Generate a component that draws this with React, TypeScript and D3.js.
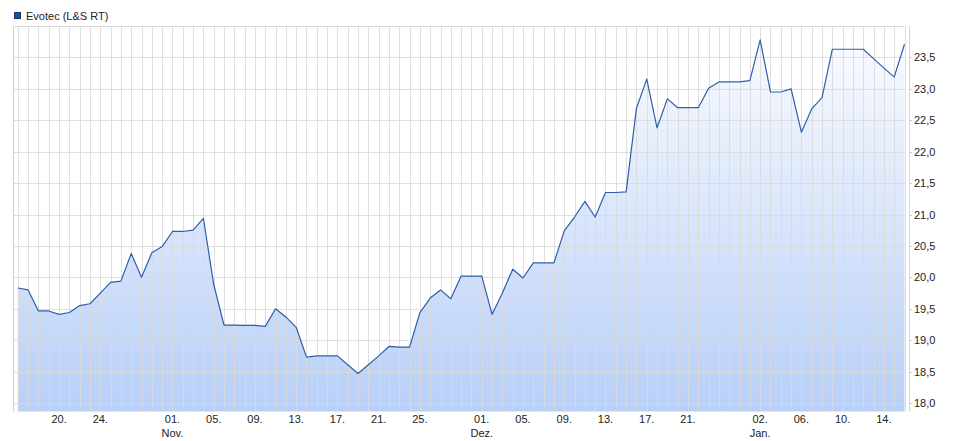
import React from "react";
import * as d3 from "d3";

const seriesName = "Evotec (L&S RT)";

const values: number[] = [
  19.83, 19.8, 19.465, 19.465, 19.41, 19.44, 19.55, 19.58, 19.75, 19.92,
  19.94, 20.38, 20.0, 20.39, 20.49, 20.73, 20.73, 20.75, 20.94, 19.89,
  19.24, 19.24, 19.235, 19.235, 19.22, 19.5, 19.37, 19.205, 18.73, 18.75,
  18.75, 18.75, 18.61, 18.47, 18.61, 18.75, 18.9, 18.89, 18.89, 19.44,
  19.67, 19.8, 19.66, 20.02, 20.02, 20.02, 19.41, 19.75, 20.13, 19.99,
  20.23, 20.23, 20.23, 20.74, 20.96, 21.21, 20.96, 21.35, 21.35, 21.36,
  22.69, 23.155, 22.38, 22.84, 22.7, 22.7, 22.7, 23.01, 23.11, 23.11,
  23.11, 23.13, 23.78, 22.95, 22.95, 23.0, 22.31, 22.68, 22.86, 23.63,
  23.63, 23.63, 23.63, 23.48, 23.33, 23.19, 23.71,
];

const tickIndex: number[] = [4, 8, 15, 19, 23, 27, 31, 35, 39, 45, 49, 53, 57, 61, 65, 72, 76, 80, 84];
const tickDay: string[] = ["20.", "24.", "01.", "05.", "09.", "13.", "17.", "21.", "25.", "01.", "05.", "09.", "13.", "17.", "21.", "02.", "06.", "10.", "14."];
const tickMonth: string[] = ["", "", "Nov.", "", "", "", "", "", "", "Dez.", "", "", "", "", "", "Jan.", "", "", ""];

const yTicks: number[] = [18.0, 18.5, 19.0, 19.5, 20.0, 20.5, 21.0, 21.5, 22.0, 22.5, 23.0, 23.5];

const W = 964;
const H = 441;
const plotLeft = 13;
const plotRight = 904.5;
const plotTop = 26;
const plotBottom = 411.5;

export default function App() {
  const x = d3.scaleLinear().domain([0, values.length - 1]).range([17.8, plotRight]);
  const y = d3.scaleLinear().domain([17.865, 24.0]).range([plotBottom, plotTop]);

  const line = d3
    .line<number>()
    .x((_, i) => x(i))
    .y((d) => y(d));
  const area = d3
    .area<number>()
    .x((_, i) => x(i))
    .y0(plotBottom)
    .y1((d) => y(d));

  const font = "'Liberation Sans', Arial, Helvetica, sans-serif";
  const gridColor = "#d9d9d9";

  return (
    <svg
      width={W}
      height={H}
      style={{ position: "absolute", left: 0, top: 0, background: "#fff" }}
      fontFamily={font}
    >
      <defs>
        <linearGradient id="fillGrad" gradientUnits="userSpaceOnUse" x1={0} y1={plotTop} x2={0} y2={plotBottom}>
          <stop offset="0%" stopColor="#fbfcff" />
          <stop offset="100%" stopColor="#b8cff7" />
        </linearGradient>
      </defs>

      {/* legend */}
      <rect x={14.5} y={12.5} width={6} height={6} fill="#1f4f9b" stroke="#14376e" strokeWidth={1} />
      <text x={26} y={20} fontSize={11} fill="#222">
        {seriesName}
      </text>

      {/* area */}
      <path d={area(values) || ""} fill="url(#fillGrad)" />

      {/* vertical gridlines */}
      {values.map((_, i) => (
        <line
          key={"v" + i}
          x1={Math.round(x(i)) + 0.5}
          x2={Math.round(x(i)) + 0.5}
          y1={plotTop}
          y2={plotBottom}
          stroke={gridColor}
          strokeOpacity={0.85}
          strokeWidth={1}
        />
      ))}
      {/* horizontal gridlines */}
      {yTicks.map((t) => (
        <line
          key={"h" + t}
          x1={plotLeft}
          x2={plotRight}
          y1={Math.round(y(t)) + 0.5}
          y2={Math.round(y(t)) + 0.5}
          stroke={gridColor}
          strokeOpacity={0.85}
        />
      ))}
      {/* borders */}
      <line x1={plotLeft + 0.5} x2={plotLeft + 0.5} y1={plotTop} y2={plotBottom} stroke="#d0d0d0" />
      <line x1={plotLeft} x2={plotRight} y1={plotTop + 0.5} y2={plotTop + 0.5} stroke={gridColor} />
      <line x1={909.5} x2={909.5} y1={plotTop} y2={plotBottom} stroke="#d6d6d6" />

      {/* line */}
      <path d={line(values) || ""} fill="none" stroke="#2f5ea9" strokeWidth={1.2} strokeLinejoin="round" />

      {/* y axis labels */}
      {yTicks.map((t) => (
        <g key={"yl" + t}>
          <line x1={909} x2={912} y1={Math.round(y(t)) + 0.5} y2={Math.round(y(t)) + 0.5} stroke="#cfcfcf" />
          <text x={914} y={y(t) + 4} fontSize={11} fill="#222">
            {d3.format(".1f")(t).replace(".", ",")}
          </text>
        </g>
      ))}

      {/* x axis labels */}
      {tickIndex.map((ti, k) => (
        <g key={"xl" + k}>
          <text x={x(ti)} y={423} fontSize={11} fill="#222" textAnchor="middle">
            {tickDay[k]}
          </text>
          {tickMonth[k] && (
            <text x={x(ti)} y={437} fontSize={11} fill="#222" textAnchor="middle">
              {tickMonth[k]}
            </text>
          )}
        </g>
      ))}
    </svg>
  );
}
